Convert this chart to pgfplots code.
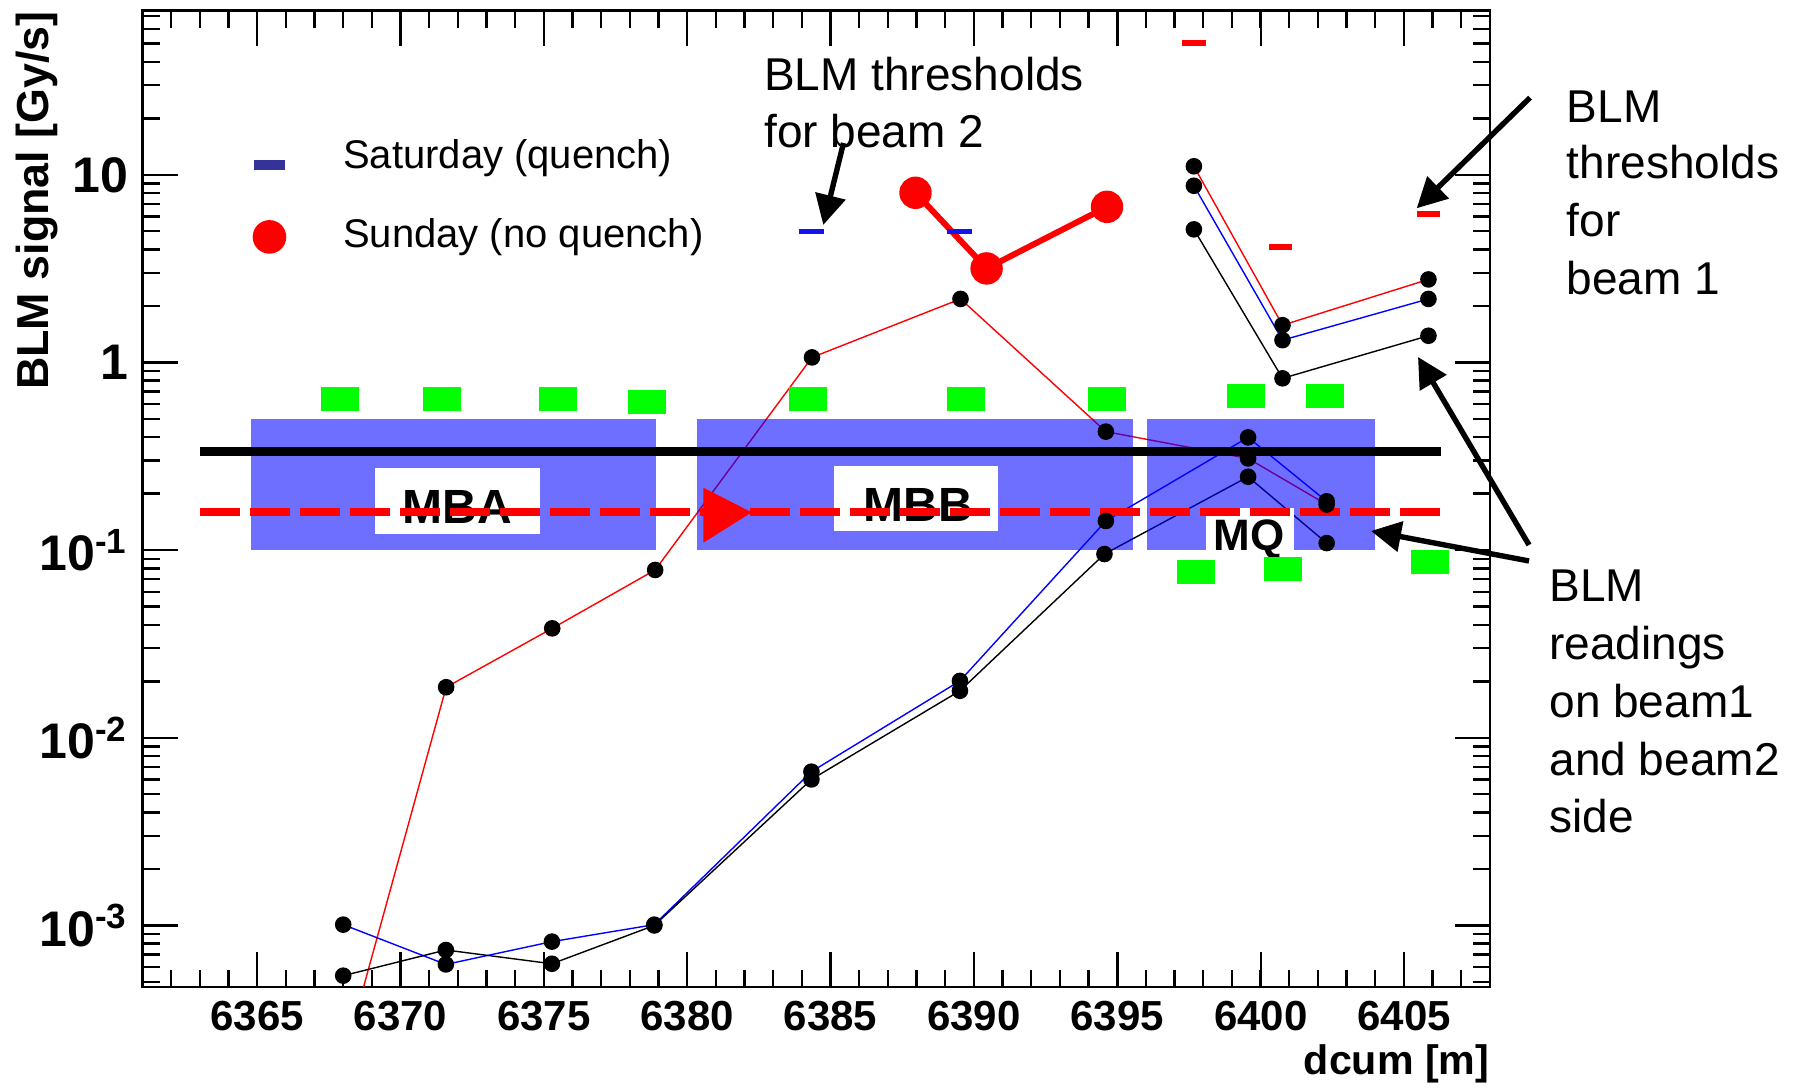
\documentclass[border=0pt]{standalone}
\usepackage{fontspec}
\setmainfont{Liberation Sans}
\usepackage{pgfplots}
\pgfplotsset{compat=1.18}
\usetikzlibrary{arrows.meta}

\definecolor{navy}{RGB}{51,51,153}
\definecolor{mygreen}{RGB}{0,255,0}
\definecolor{thrblue}{RGB}{20,20,240}

\pgfdeclareplotmark{grect}{\pgfpathrectangle{\pgfpoint{-4.75pt}{-3pt}}{\pgfpoint{9.5pt}{6pt}}\pgfusepathqfill}
\pgfdeclareplotmark{bdash}{\pgfpathrectangle{\pgfpoint{-3.1pt}{-0.6pt}}{\pgfpoint{6.2pt}{1.2pt}}\pgfusepathqfill}
\pgfdeclareplotmark{rdash}{\pgfpathrectangle{\pgfpoint{-2.9pt}{-0.75pt}}{\pgfpoint{5.8pt}{1.5pt}}\pgfusepathqfill}
\pgfdeclareplotmark{legdash}{\pgfpathrectangle{\pgfpoint{-3.8pt}{-3pt}}{\pgfpoint{7.6pt}{2.4pt}}\pgfusepathqfill}

\begin{document}
\begin{tikzpicture}
\begin{axis}[
  name=ax,
  scale only axis,
  width=336.9pt, height=244.1pt,
  xmin=6361, xmax=6408,
  ymode=log, ymin=4.7e-4, ymax=75,
  xtick={6365,6370,6375,6380,6385,6390,6395,6400,6405},
  xticklabels={6365,6370,6375,6380,6385,6390,6395,6400,6405},
  minor xtick={6361,6362,...,6408},
  ytick={0.001,0.01,0.1,1,10},
  yticklabels={10\textsuperscript{-3},10\textsuperscript{-2},10\textsuperscript{-1},1,10},
  minor ytick={5e-4,6e-4,7e-4,8e-4,9e-4,2e-3,3e-3,4e-3,5e-3,6e-3,7e-3,8e-3,9e-3,0.02,0.03,0.04,0.05,0.06,0.07,0.08,0.09,0.2,0.3,0.4,0.5,0.6,0.7,0.8,0.9,2,3,4,5,6,7,8,9,20,30,40,50,60,70},
  tick align=inside,
  major tick length=8.75pt, minor tick length=4.25pt,
  axis line style={line width=0.6pt},
  every tick/.style={line width=0.6pt, black},
  x tick label style={font=\fontsize{10.5}{12}\selectfont\bfseries},
  y tick label style={font=\fontsize{12.5}{14}\selectfont\bfseries},
  xlabel={dcum [m]},
  ylabel={BLM signal [Gy/s]},
  xlabel style={at={(axis description cs:1,-0.0899)}, anchor=base east, inner sep=0pt, font=\fontsize{10.3}{12}\selectfont\bfseries},
  ylabel style={at={(axis description cs:-0.0783,1)}, anchor=east, inner sep=0pt, font=\fontsize{11.2}{13}\selectfont\bfseries},
  legend style={draw=none, fill=none, at={(axis description cs:0.0683,0.8694)}, anchor=north west,
    inner sep=0pt, row sep=10.25pt, column sep=9.9pt, font=\fontsize{10}{12}\selectfont,
    nodes={inner sep=0pt, text height=0.75em, text depth=0.2em}},
  legend cell align=left,
  legend image code/.code={\path[draw=none, fill=none] (0cm,-0.1cm) rectangle (0.6cm,0.1cm); \draw[#1] plot coordinates {(0.3cm,0cm)};},
]
% --- BLM readings (left part), drawn first so the magnet boxes overlay them
\addplot[red, line width=0.35pt, mark=*, mark size=1.9pt, mark options={fill=black, draw=black}, forget plot] coordinates {
 (6368,1.9e-4) (6371.59,0.0186) (6375.29,0.0383) (6378.88,0.0784) (6384.35,1.064) (6389.53,2.18) (6394.6,0.428) (6399.56,0.308) (6402.3,0.175)};
\addplot[blue, line width=0.35pt, mark=*, mark size=1.9pt, mark options={fill=black, draw=black}, forget plot] coordinates {
 (6368,1.01e-3) (6371.58,6.2e-4) (6375.28,8.2e-4) (6378.85,1.01e-3) (6384.33,6.6e-3) (6389.51,0.0201) (6394.6,0.143) (6399.56,0.399) (6402.3,0.182)};
\addplot[black, line width=0.35pt, mark=*, mark size=1.9pt, mark options={fill=black, draw=black}, forget plot] coordinates {
 (6368,5.4e-4) (6371.58,7.4e-4) (6375.28,6.25e-4) (6378.85,1.0e-3) (6384.33,6.0e-3) (6389.51,0.0178) (6394.55,0.0953) (6399.56,0.246) (6402.3,0.109)};
% --- BLM readings (right part)
\addplot[red, line width=0.35pt, mark=*, mark size=1.9pt, mark options={fill=black, draw=black}, forget plot] coordinates {
 (6397.67,11.1) (6400.76,1.58) (6405.85,2.77)};
\addplot[blue, line width=0.35pt, mark=*, mark size=1.9pt, mark options={fill=black, draw=black}, forget plot] coordinates {
 (6397.67,8.74) (6400.76,1.315) (6405.85,2.18)};
\addplot[black, line width=0.35pt, mark=*, mark size=1.9pt, mark options={fill=black, draw=black}, forget plot] coordinates {
 (6397.67,5.12) (6400.76,0.823) (6405.85,1.388)};
% --- magnet boxes
\addplot[draw=none, fill=blue, fill opacity=0.57, forget plot] coordinates {(6364.77,0.1) (6378.9,0.1) (6378.9,0.5) (6364.77,0.5)} -- cycle;
\addplot[draw=none, fill=blue, fill opacity=0.57, forget plot] coordinates {(6380.33,0.1) (6395.54,0.1) (6395.54,0.5) (6380.33,0.5)} -- cycle;
\addplot[draw=none, fill=blue, fill opacity=0.57, forget plot] coordinates {(6396.04,0.1) (6403.97,0.1) (6403.97,0.5) (6396.04,0.5)} -- cycle;
\addplot[draw=none, fill=white, forget plot] coordinates {(6369.1,0.122) (6374.85,0.122) (6374.85,0.275) (6369.1,0.275)} -- cycle;
\addplot[draw=none, fill=white, forget plot] coordinates {(6385.13,0.126) (6390.85,0.126) (6390.85,0.282) (6385.13,0.282)} -- cycle;
\addplot[draw=none, fill=white, forget plot] coordinates {(6398.08,0.1) (6401.15,0.1) (6401.15,0.168) (6398.08,0.168)} -- cycle;
\node[font=\fontsize{12}{14}\selectfont\bfseries, inner sep=0pt] at (axis cs:6371.99,0.170) {MBA};
\node[font=\fontsize{12}{14}\selectfont\bfseries, inner sep=0pt] at (axis cs:6388.05,0.173) {MBB};
\node[font=\fontsize{11}{13}\selectfont\bfseries, inner sep=0pt] at (axis cs:6399.6,0.114) {MQ};
% --- quench level lines
\addplot[black, line width=2.3pt, forget plot] coordinates {(6363,0.334) (6406.3,0.334)};
\addplot[red, line width=2pt, dash pattern=on 10pt off 2.5pt, forget plot] coordinates {(6363,0.159) (6406.4,0.159)};
\addplot[fill=red, draw=none, forget plot] coordinates {(6380.56,0.215) (6382.25,0.159) (6380.56,0.1095)} -- cycle;
% --- BLM positions
\addplot[only marks, mark=grect, color=mygreen, forget plot] coordinates {
 (6367.89,0.638) (6371.46,0.638) (6375.48,0.638) (6378.59,0.618) (6384.22,0.638) (6389.71,0.638) (6394.64,0.638) (6399.47,0.664) (6402.23,0.664)
 (6397.75,0.0766) (6400.76,0.0794) (6405.9,0.0867)};
% --- thresholds
\addplot[only marks, mark=bdash, color=thrblue, forget plot] coordinates {(6384.32,4.97) (6389.5,4.97)};
\addplot[only marks, mark=rdash, color=red, forget plot] coordinates {(6397.67,50.3) (6400.69,4.11) (6405.85,6.15)};
% --- Sunday
\addplot[red, line width=1.5pt, mark=*, mark size=3.3pt, forget plot] coordinates {(6387.96,8.02) (6390.44,3.17) (6394.64,6.75)};
% --- legend
\addlegendimage{only marks, mark=legdash, color=navy}
\addlegendentry{Saturday (quench)}
\addlegendimage{only marks, mark=*, mark size=4pt, color=red}
\addlegendentry{Sunday (no quench)}
\end{axis}

\begin{scope}[shift={(ax.south west)}, x=0.25pt, y=-0.25pt, shift={(-142.5,-987)}]
  \path (0,0) rectangle (1800,1089);
  \begin{scope}[every node/.style={inner sep=0pt, anchor=base west, font=\fontsize{11.5}{14}\selectfont}]
    \node at (763.5,90.5) {BLM thresholds};
    \node at (763.5,147.5) {for beam 2};
    \node at (1566,122.8) {BLM};
    \node at (1566,178.9) {thresholds};
    \node at (1566,236.8) {for};
    \node at (1566,294.6) {beam 1};
    \node at (1548.7,602) {BLM};
    \node at (1548.7,659.7) {readings};
    \node at (1548.7,717.9) {on beam1};
    \node at (1548.7,776) {and beam2};
    \node at (1548.7,832.5) {side};
  \end{scope}
  \begin{scope}[line width=1.35pt, -{Triangle[length=7.5pt, width=7.5pt]}]
    \draw (843.5,143) -- (823.3,225);
    \draw (1530,97.7) -- (1416.7,208.3);
    \draw (1529,545) -- (1418,357);
    \draw (1529,561) -- (1371,531);
  \end{scope}
\end{scope}
\end{tikzpicture}
\end{document}
